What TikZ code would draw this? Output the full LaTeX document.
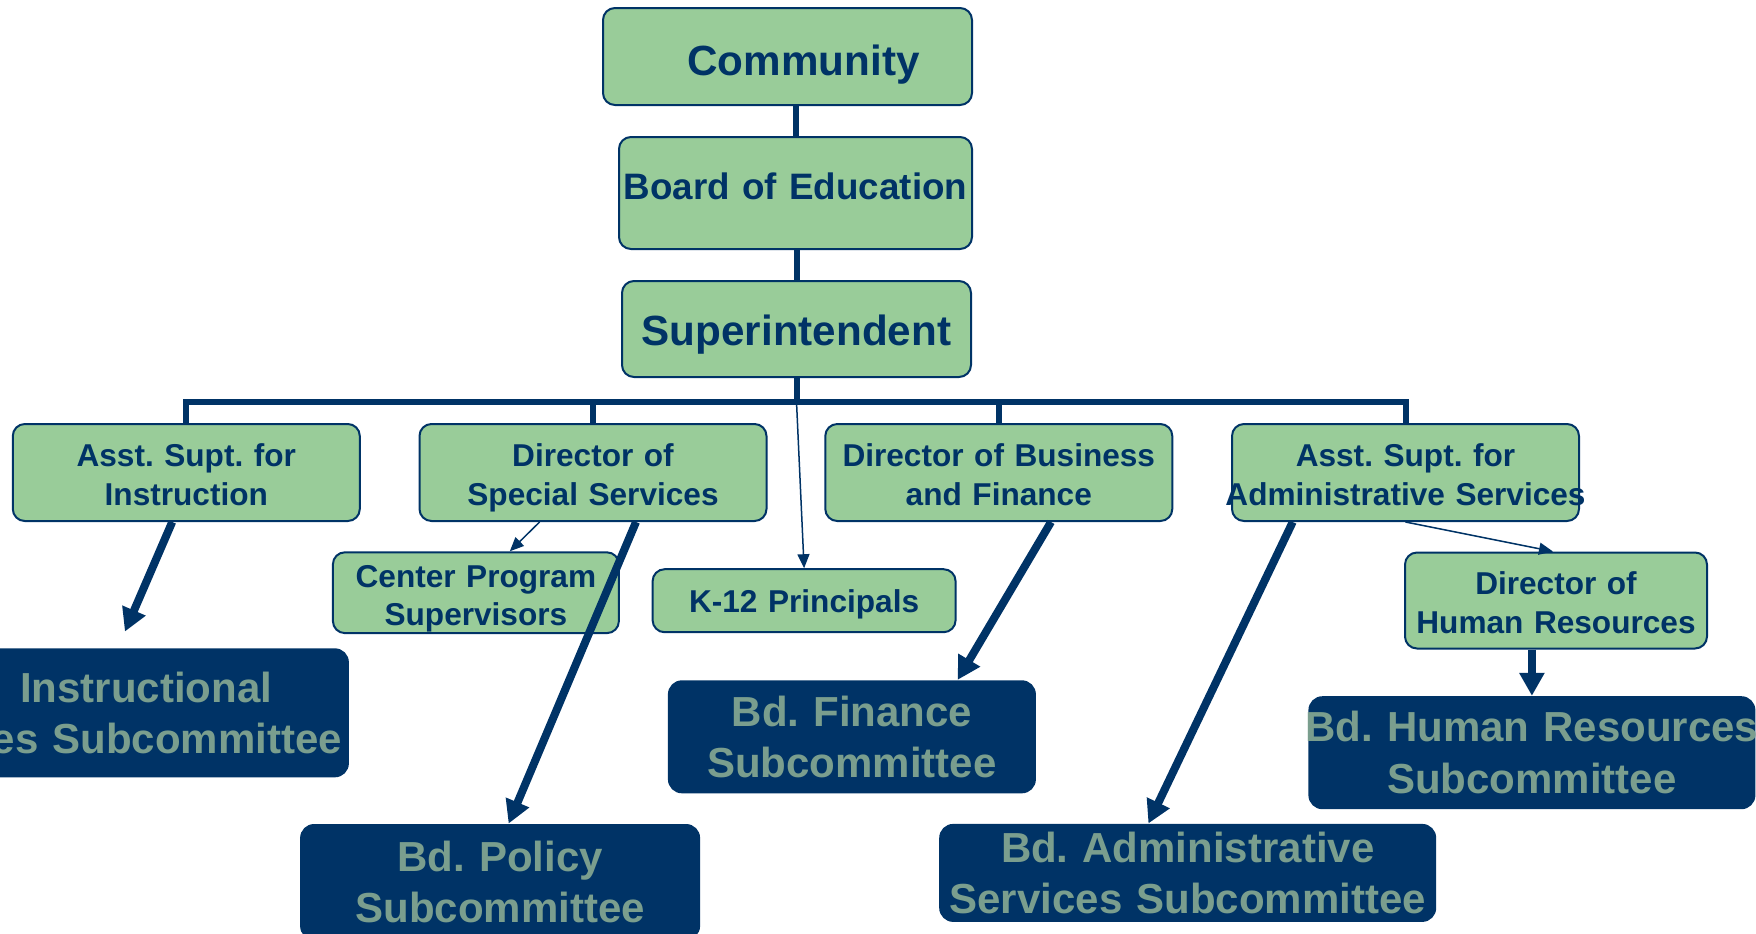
\documentclass[tikz,border=0pt]{standalone}
\usepackage{fontspec}
\setmainfont{Liberation Sans}
\usetikzlibrary{arrows.meta,calc}

\definecolor{navy}{HTML}{003366}
\definecolor{leaf}{HTML}{99CC99}
\definecolor{sage}{HTML}{7A9E8E}

\tikzset{
  boxsize/.style 2 args={minimum width=#1, text width=#1, minimum height=#2},
  greenbox/.style={draw=navy, line width=1pt, fill=leaf, rounded corners=6pt,
    text=navy, inner sep=0pt, align=center, text height=11.3pt, text depth=0pt,
    font=\bfseries\fontsize{15.8}{19.3}\selectfont},
  twolines/.style={text height=17.4pt, text depth=23pt},
  darkbox/.style={fill=navy, rounded corners=7pt, text=sage, inner sep=0pt,
    align=center, font=\bfseries\fontsize{21}{25.75}\selectfont},
  treeline/.style={draw=navy, line width=3pt},
  bigarrow/.style={draw=navy, line width=4pt, -{Triangle[length=11.5pt,width=12pt]}},
  thinarrow/.style={draw=navy, line width=0.75pt, -{Triangle[length=7pt,width=6pt]}},
}

\begin{document}
\frenchspacing
\begin{tikzpicture}[x=0.5pt, y=-0.5pt]
            \useasboundingbox (0,0) rectangle (1756,933);
            % top of the chart
            \node[greenbox, boxsize={184.5pt}{48.5pt}, font=\bfseries\fontsize{21.1}{25}\selectfont,
                  text height=19.1pt] (comm) at (787.5,56.5) {\hspace*{16pt}Community};
            \node[greenbox, boxsize={176.5pt}{56pt}, font=\bfseries\fontsize{18.4}{22}\selectfont,
                  text height=12pt, text depth=5.8pt] (board) at (795.5,193) {Board of Education};
            \node[greenbox, boxsize={174.5pt}{48pt}, font=\bfseries\fontsize{21.1}{25}\selectfont,
                  text height=16.1pt] (supt) at (796.5,329) {Superintendent};
            % staff row
            \foreach \name/\x/\txt in {instr/186.3/{Asst. Supt. for\\Instruction},
                    special/593/{Director of\\Special Services},
                    business/998.8/{Director of Business\\and Finance},
                    admin/1405.5/{Asst. Supt. for\\\makebox[\linewidth]{Administrative Services}}}{%
                    \node[greenbox, twolines, boxsize={173.5pt}{48.5pt}] (\name) at (\x,472.5) {\txt};
                }
            \node[greenbox, twolines, boxsize={143pt}{40pt}] (cps) at (475.9,592.7) {Center Program\\Supervisors};
            \node[greenbox, boxsize={151.5pt}{31.5pt}] (k12) at (804.1,600.7) {K-12 Principals};
            \node[greenbox, twolines, boxsize={151pt}{48pt}] (hrdir) at (1556,600.5) {Director of\\Human Resources};
            % board subcommittees
            \node[darkbox, boxsize={244pt}{64.5pt}, align=right] (instrsub) at (104.9,712.8)
                {Instructional\rule{38.3pt}{0pt}\\es Subcommittee\rule{3.5pt}{0pt}};
            \node[darkbox, boxsize={200pt}{58pt}] (policy) at (500.1,882) {Bd. Policy\\Subcommittee};
            \node[darkbox, boxsize={184pt}{56.5pt}] (finance) at (851.9,736.8) {Bd. Finance\\Subcommittee};
            \node[darkbox, boxsize={248.5pt}{49pt}] (adminsub) at (1187.7,872.9)
                {Bd. Administrative\\Services Subcommittee};
            \node[darkbox, boxsize={223.5pt}{56.5pt}] (hrsub) at (1531.9,752.7)
                {\makebox[\linewidth]{Bd. Human Resources}\\Subcommittee};
            % tree lines
            \coordinate (bar) at ($(supt.south)+(0,23.7)$);
            \draw[treeline] (comm.south -| board.north) -- (board.north);
            \draw[treeline] (board.south -| supt.north) -- (supt.north);
            \draw[treeline] (supt.south) -- (bar);
            \draw[treeline] (instr.north) |- (bar) -| (admin.north);
            \foreach \b in {special,business}{%
                    \draw[treeline] (\b.north) -- (\b.north |- bar);
                }
            % arrows
            \draw[thinarrow] (bar) -- (k12.north);
            \draw[thinarrow] ($(special.south)+(-53.4,0)$) -- ($(cps.north)+(33.9,0)$);
            \draw[thinarrow] (admin.south) -- ($(hrdir.north)+(-3,0)$);
            \draw[bigarrow] ($(instr.south)+(-14.1,0)$) -- ($(instrsub.north)+(20,-16.3)$);
            \draw[bigarrow] ($(special.south)+(43,0)$) -- ($(policy.north)+(8.5,0)$);
            \draw[bigarrow] ($(business.south)+(52.2,0)$) -- ($(finance.north)+(105.7,0)$);
            \draw[bigarrow] ($(admin.south)+(-112.8,0)$) -- ($(adminsub.north)+(-39.3,0)$);
            \draw[bigarrow] (hrdir.south -| hrsub.north) -- (hrsub.north);
        \end{tikzpicture}
\end{document}
